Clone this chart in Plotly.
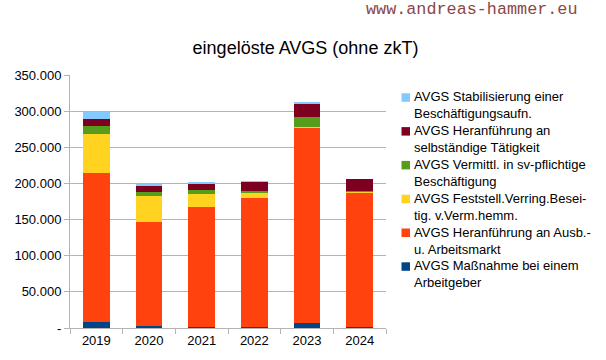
import plotly.graph_objects as go

years = ["2019", "2020", "2021", "2022", "2023", "2024"]

series_names = [
    "AVGS Maßnahme bei einem<br>Arbeitgeber",
    "AVGS Heranführung an Ausb.-<br>u. Arbeitsmarkt",
    "AVGS Feststell.Verring.Besei-<br>tig. v.Verm.hemm.",
    "AVGS Vermittl. in sv-pflichtige<br>Beschäftigung",
    "AVGS Heranführung an<br>selbständige Tätigkeit",
    "AVGS Stabilisierung einer<br>Beschäftigungsaufn.",
]
massnahme_arbeitgeber = [8300, 2800, 1400, 1400, 7400, 1400]
heranfuehrung_ausb = [206000, 143700, 165900, 178300, 270500, 185700]
feststellung = [54400, 36400, 18000, 7400, 500, 1400]
vermittlung = [10600, 5100, 6000, 2300, 13800, 900]
selbstaendig = [9700, 9700, 9200, 12900, 18900, 16600]
stabilisierung = [10100, 1400, 1400, 900, 1400, 0]

series_values = [massnahme_arbeitgeber, heranfuehrung_ausb, feststellung,
                 vermittlung, selbstaendig, stabilisierung]
colors = ["#004586", "#FF420E", "#FFD320", "#579D1C", "#7E0021", "#83CAFF"]

y_tickvals = [0, 50000, 100000, 150000, 200000, 250000, 300000, 350000]
y_ticktext = ["-", "50.000", "100.000", "150.000", "200.000", "250.000", "300.000", "350.000"]

W, H = 606, 360
ML, MR, MT, MB = 70, 220, 75, 32
PW, PH = W - ML - MR, H - MT - MB


def px_x(X):
    return (X - ML) / PW


def px_y(Y):
    return (H - MB - Y) / PH


fig = go.Figure()
for name, vals, col in zip(series_names, series_values, colors):
    fig.add_trace(go.Bar(x=years, y=vals, name=name.replace("<br>", " "),
                         marker_color=col, marker_line_width=0,
                         showlegend=False))

# legend drawn as real text, top entry = top of stack
shapes = []
annotations = []
for i, (name, col) in enumerate(zip(reversed(series_names), reversed(colors))):
    top = 93.3 + 33.8 * i
    shapes.append(dict(type="rect", xref="paper", yref="paper",
                       x0=px_x(401.5), x1=px_x(410), y0=px_y(top + 8.5), y1=px_y(top),
                       fillcolor=col, line_width=0))
    annotations.append(dict(text=name, xref="paper", yref="paper",
                            x=px_x(412), y=px_y(top + 12.0), xanchor="left",
                            yanchor="middle", align="left", showarrow=False,
                            font=dict(size=13, color="#000000")))

annotations.append(dict(text="www.andreas-hammer.eu", xref="paper", yref="paper",
                        x=px_x(364), y=px_y(10), xanchor="left", yanchor="middle",
                        showarrow=False,
                        font=dict(family="Liberation Mono, Courier New, monospace",
                                  size=16.8, color="#8B4747")))

fig.update_layout(
    width=W, height=H,
    barmode="stack", bargap=0.49,
    plot_bgcolor="white", paper_bgcolor="white",
    margin=dict(l=ML, r=MR, t=MT, b=MB, autoexpand=False),
    font=dict(family="Liberation Sans, Arial, sans-serif", size=13, color="#000000"),
    title=dict(text="eingelöste AVGS (ohne zkT)", xref="container", x=305.5 / W,
               xanchor="center", yref="container", y=1 - 47.5 / H, yanchor="middle",
               font=dict(size=18, color="#000000")),
    showlegend=False,
    hovermode=False,
    shapes=shapes,
    annotations=annotations,
)
fig.update_xaxes(type="category", range=[-0.5, 5.5], showline=True,
                 linecolor="#b3b3b3", linewidth=1, ticks="outside",
                 tickson="boundaries", ticklen=5, tickcolor="#b3b3b3",
                 showgrid=False, tickfont=dict(size=13))
fig.update_yaxes(range=[0, 350000], tickvals=y_tickvals, ticktext=y_ticktext,
                 showline=True, linecolor="#b3b3b3", linewidth=1,
                 ticks="outside", ticklen=5, tickcolor="#b3b3b3",
                 showgrid=True, gridcolor="#b3b3b3", gridwidth=1,
                 zeroline=False, tickfont=dict(size=13))

fig.write_html("out.html", config={"displayModeBar": False},
               post_script="document.body.style.margin='0';")
